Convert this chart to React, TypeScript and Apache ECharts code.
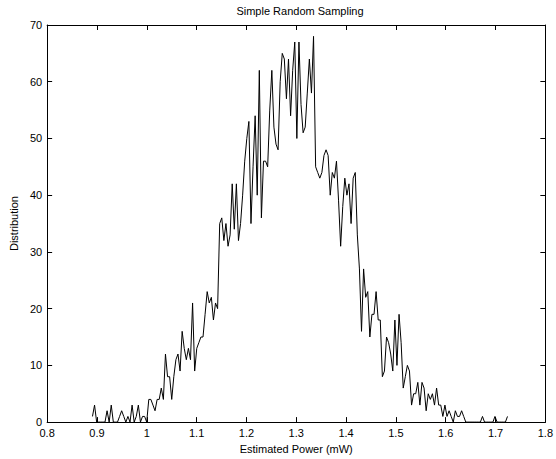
import React, { useEffect, useRef } from "react";
import * as echarts from "echarts";

// Histogram of estimated power: 200 bins, centers starting at binStart
const binStart = 0.891;
const binWidth = 0.004186;
const counts: number[] = [
  1, 3, 0, 0, 0, 0, 0, 2, 0, 3,
  0, 0, 0, 1, 2, 1, 0, 1, 0, 3,
  0, 1, 3, 0, 1, 1, 0, 4, 4, 3,
  2, 4, 4, 6, 4, 12, 8, 8, 4, 8,
  11, 12, 9, 16, 13, 11, 13, 11, 21, 9,
  13, 14, 15, 15, 19, 23, 21, 22, 18, 21,
  20, 35, 36, 32, 35, 31, 33, 42, 34, 42,
  32, 35, 40, 46, 50, 53, 35, 45, 54, 40,
  62, 36, 46, 46, 45, 55, 62, 52, 49, 48,
  60, 65, 64, 57, 64, 54, 62, 67, 50, 67,
  56, 51, 52, 58, 64, 58, 68, 45, 44, 43,
  44, 47, 48, 47, 40, 44, 43, 46, 39, 31,
  38, 43, 40, 42, 35, 43, 44, 33, 27, 16,
  27, 22, 23, 15, 19, 19, 23, 18, 18, 8,
  9, 15, 14, 12, 9, 18, 10, 19, 14, 6,
  8, 10, 9, 3, 5, 5, 7, 3, 7, 6,
  2, 5, 4, 5, 3, 6, 3, 3, 1, 3,
  1, 2, 1, 0, 2, 1, 1, 2, 1, 0,
  0, 0, 0, 0, 0, 0, 0, 1, 0, 0,
  0, 0, 0, 1, 0, 0, 0, 0, 0, 1,
];

const titleText = "Simple Random Sampling";
const xName = "Estimated Power (mW)";
const yName = "Distribution";
const xMin = 0.8;
const xMax = 1.8;
const xStep = 0.1;
const yMin = 0;
const yMax = 70;
const yStep = 10;

const FONT = "Liberation Sans, Arial, Helvetica, sans-serif";

export default function App() {
  const ref = useRef<HTMLDivElement>(null);
  useEffect(() => {
    if (!ref.current) return;
    const chart = echarts.init(ref.current, undefined, { renderer: "svg" });
    const data = counts.map((c, i) => [binStart + i * binWidth, c]);
    const txt = { color: "#000", fontSize: 11, fontFamily: FONT };
    const lineStyle = { color: "#000", width: 1 };
    chart.setOption({
      animation: false,
      backgroundColor: "#fff",
      title: {
        text: titleText,
        left: 295,
        textAlign: "center",
        top: 0,
        textStyle: { ...txt, fontWeight: "normal" },
      },
      grid: { left: 43, right: 10, top: 25, bottom: 35, containLabel: false },
      xAxis: [
        {
          type: "value",
          position: "bottom",
          min: xMin,
          max: xMax,
          interval: xStep,
          axisLine: { show: true, onZero: false, lineStyle },
          axisTick: { show: true, inside: true, length: 5, lineStyle },
          axisLabel: {
            ...txt,
            margin: 5,
            formatter: (v: number) => String(+v.toFixed(1)),
          },
          splitLine: { show: false },
          name: xName,
          nameLocation: "middle",
          nameGap: 18,
          nameTextStyle: txt,
        },
        {
          type: "value",
          position: "top",
          min: xMin,
          max: xMax,
          interval: xStep,
          axisLine: { show: true, onZero: false, lineStyle },
          axisTick: { show: true, inside: true, length: 5, lineStyle },
          axisLabel: { show: false },
          splitLine: { show: false },
        },
      ],
      yAxis: [
        {
          type: "value",
          position: "left",
          min: yMin,
          max: yMax,
          interval: yStep,
          axisLine: { show: true, onZero: false, lineStyle },
          axisTick: { show: true, inside: true, length: 5, lineStyle },
          axisLabel: { ...txt, margin: 5 },
          splitLine: { show: false },
          name: yName,
          nameLocation: "middle",
          nameGap: 25,
          nameTextStyle: txt,
        },
        {
          type: "value",
          position: "right",
          min: yMin,
          max: yMax,
          interval: yStep,
          axisLine: { show: true, onZero: false, lineStyle },
          axisTick: { show: true, inside: true, length: 5, lineStyle },
          axisLabel: { show: false },
          splitLine: { show: false },
        },
      ],
      series: [
        {
          type: "line",
          xAxisIndex: 0,
          yAxisIndex: 0,
          data,
          symbol: "none",
          showSymbol: false,
          lineStyle: { color: "#000", width: 1 },
        },
      ],
    });
    return () => chart.dispose();
  }, []);
  return (
    <div
      ref={ref}
      style={{ position: "fixed", left: 0, top: 0, width: 556, height: 459, background: "#fff" }}
    />
  );
}
